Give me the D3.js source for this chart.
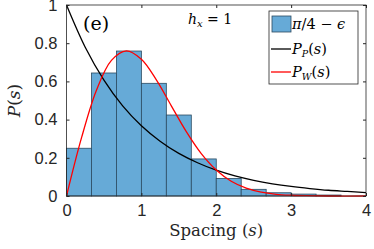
<!DOCTYPE html>
<html>
<head>
<meta charset="utf-8">
<script src="https://cdnjs.cloudflare.com/ajax/libs/d3/7.8.5/d3.min.js"></script>
<style>
  body { margin: 0; background: #fff; }
  svg { display: block; }
  .tick text { font-family: "Liberation Sans", Arial, sans-serif; font-size: 16.5px; fill: #262626; }
  .serif { font-family: "DejaVu Serif", serif; }
</style>
</head>
<body>
<div class="chart"></div>
<script>
var width = 374;
var height = 249;
var margin = {top: 5, right: 8, bottom: 53, left: 66.5};

// histogram: bin edges and heights
var binEdges = [0, 1/3, 2/3, 1, 4/3, 5/3, 2, 7/3, 8/3, 3, 10/3, 11/3];
var binHeights = [0.25, 0.644, 0.759, 0.59, 0.424, 0.194, 0.092, 0.035, 0.017, 0.01, 0.005];

// Poisson curve
var poissonS = [0, 0.25, 0.5, 0.75, 1, 1.25, 1.5, 1.75, 2, 2.25, 2.5, 2.75, 3, 3.25, 3.5, 3.75, 4];
var poissonP = [1, 0.779, 0.607, 0.472, 0.368, 0.287, 0.223, 0.174, 0.135, 0.105, 0.082, 0.064, 0.05, 0.039, 0.03, 0.024, 0.018];

// Wigner curve
var wignerS = [0, 0.2, 0.4, 0.6, 0.8, 1, 1.2, 1.4, 1.6, 1.8, 2, 2.2, 2.4, 2.6, 2.8, 3, 3.2, 3.5, 4];
var wignerP = [0, 0.304, 0.554, 0.71, 0.76, 0.716, 0.608, 0.472, 0.337, 0.222, 0.136, 0.077, 0.041, 0.02, 0.009, 0.004, 0.0015, 0, 0];

var xTicks = [0, 1, 2, 3, 4];
var yTicks = [0, 0.2, 0.4, 0.6, 0.8, 1];

var svg = d3.select(".chart").append("svg")
  .attr("width", width)
  .attr("height", height);

var x = d3.scaleLinear().domain([0, 4]).range([margin.left, width - margin.right]);
var y = d3.scaleLinear().domain([0, 1]).range([height - margin.bottom, margin.top]);

var bins = binHeights.map(function(h, i) { return {x0: binEdges[i], x1: binEdges[i + 1], h: h}; });

svg.append("g").selectAll("rect")
  .data(bins)
  .enter().append("rect")
    .attr("x", function(d) { return x(d.x0); })
    .attr("y", function(d) { return y(d.h); })
    .attr("width", function(d) { return x(d.x1) - x(d.x0); })
    .attr("height", function(d) { return y(0) - y(d.h); })
    .attr("fill", "#66aad7")
    .attr("stroke", "#2b4a60")
    .attr("stroke-width", 0.8);

var line = d3.line()
  .x(function(d) { return x(d[0]); })
  .y(function(d) { return y(d[1]); })
  .curve(d3.curveCatmullRom);

svg.append("path")
  .datum(poissonS.map(function(s, i) { return [s, poissonP[i]]; }))
  .attr("fill", "none").attr("stroke", "#000").attr("stroke-width", 1.3)
  .attr("d", line);

svg.append("path")
  .datum(wignerS.map(function(s, i) { return [s, wignerP[i]]; }))
  .attr("fill", "none").attr("stroke", "#ff0000").attr("stroke-width", 1.3)
  .attr("d", line);

// axes (MATLAB style: ticks inside, box)
var tl = 3;
function tidy(g) {
  g.select(".domain").remove();
  g.selectAll("line").attr("stroke", "#262626");
}

svg.append("g")
  .attr("transform", "translate(0," + y(0) + ")")
  .call(d3.axisBottom(x).tickValues(xTicks).tickFormat(d3.format("d")).tickSize(-tl).tickPadding(8))
  .call(tidy);

svg.append("g")
  .attr("transform", "translate(" + x(0) + ",0)")
  .call(d3.axisLeft(y).tickValues(yTicks).tickFormat(function(d) { return d === 0 || d === 1 ? d : d3.format(".1f")(d); }).tickSize(-tl).tickPadding(9))
  .call(tidy);

svg.append("g")
  .attr("transform", "translate(0," + y(1) + ")")
  .call(d3.axisTop(x).tickValues(xTicks).tickFormat("").tickSize(-tl))
  .call(tidy);

svg.append("g")
  .attr("transform", "translate(" + x(4) + ",0)")
  .call(d3.axisRight(y).tickValues(yTicks).tickFormat("").tickSize(-tl))
  .call(tidy);

svg.append("rect")
  .attr("x", x(0)).attr("y", y(1))
  .attr("width", x(4) - x(0)).attr("height", y(0) - y(1))
  .attr("fill", "none").attr("stroke", "#262626").attr("stroke-width", 0.8);

// labels
svg.append("text").attr("class", "serif")
  .attr("x", (x(0) + x(4)) / 2).attr("y", 236)
  .attr("text-anchor", "middle")
  .attr("font-size", 16.5)
  .attr("fill", "#262626")
  .html("Spacing (<tspan font-style='italic'>s</tspan>)");

svg.append("text").attr("class", "serif")
  .attr("transform", "translate(20," + ((y(0) + y(1)) / 2) + ") rotate(-90)")
  .attr("text-anchor", "middle")
  .attr("font-size", 17)
  .attr("fill", "#262626")
  .html("<tspan font-style='italic'>P</tspan>(<tspan font-style='italic'>s</tspan>)");

svg.append("text").attr("class", "serif")
  .attr("x", 83).attr("y", 30)
  .attr("font-size", 19)
  .text("(e)");

svg.append("text").attr("class", "serif")
  .attr("x", 188).attr("y", 24)
  .attr("font-size", 14)
  .html("<tspan font-style='italic'>h</tspan><tspan font-style='italic' font-size='10px' dy='3'>x</tspan><tspan dy='-3'> = 1</tspan>");

// legend
var lg = svg.append("g").attr("transform", "translate(269,11)");
lg.append("rect").attr("width", 89).attr("height", 73)
  .attr("fill", "#fff").attr("stroke", "#262626").attr("stroke-width", 0.8);
lg.append("rect").attr("x", 3).attr("y", 5).attr("width", 19).attr("height", 16)
  .attr("fill", "#66aad7").attr("stroke", "#2b4a60").attr("stroke-width", 0.8);
lg.append("line").attr("x1", 2).attr("x2", 22).attr("y1", 38).attr("y2", 38)
  .attr("stroke", "#000").attr("stroke-width", 1.3);
lg.append("line").attr("x1", 2).attr("x2", 22).attr("y1", 61).attr("y2", 61)
  .attr("stroke", "#ff0000").attr("stroke-width", 1.3);

lg.append("text").attr("class", "serif").attr("x", 23).attr("y", 18)
  .attr("font-size", 14.5)
  .html("<tspan font-style='italic'>π</tspan>/4 − <tspan font-style='italic'>ϵ</tspan>");
lg.append("text").attr("class", "serif").attr("x", 23).attr("y", 43)
  .attr("font-size", 14.5)
  .html("<tspan font-style='italic'>P</tspan><tspan font-style='italic' font-size='9.5px' dy='3'>P</tspan><tspan dy='-3'>(</tspan><tspan font-style='italic'>s</tspan>)");
lg.append("text").attr("class", "serif").attr("x", 23).attr("y", 66)
  .attr("font-size", 14.5)
  .html("<tspan font-style='italic'>P</tspan><tspan font-style='italic' font-size='9.5px' dy='3'>W</tspan><tspan dy='-3'>(</tspan><tspan font-style='italic'>s</tspan>)");
</script>
</body>
</html>
